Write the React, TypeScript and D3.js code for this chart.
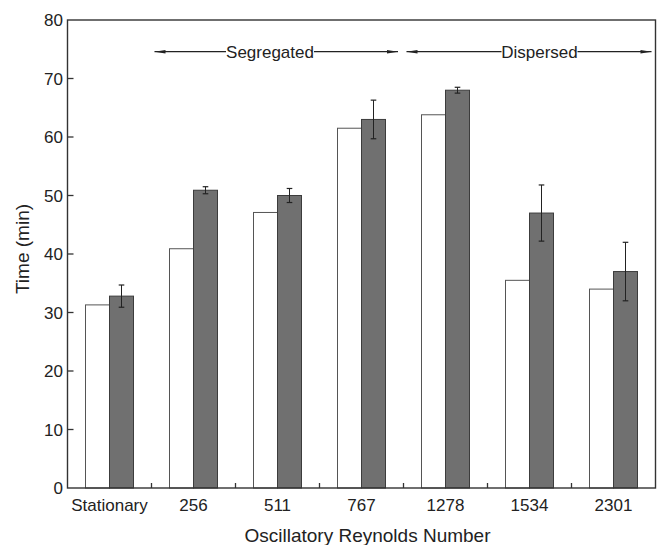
import React from "react";
import * as d3 from "d3";

const categories = ["Stationary", "256", "511", "767", "1278", "1534", "2301"];
const seriesKeys = ["open", "filled"];
const openValues = [31.3, 40.9, 47.1, 61.5, 63.8, 35.5, 34.0];
const filledValues = [32.8, 50.9, 50.0, 63.0, 68.0, 47.0, 37.0];
const filledErrors = [1.9, 0.6, 1.2, 3.3, 0.5, 4.8, 5.0];
const yTicks = [0, 10, 20, 30, 40, 50, 60, 70, 80];
const regimes = [
  { label: "Segregated", from: 1, to: 3 },
  { label: "Dispersed", from: 4, to: 6 },
];

const W = 664;
const H = 545;
const M = { left: 67.5, right: 655.5, top: 20, bottom: 488 };
const FONT = "'Liberation Sans', Arial, Helvetica, sans-serif";

export default function App() {
  const x = d3.scaleBand<string>().domain(categories).range([M.left, M.right]).paddingInner(0).paddingOuter(0);
  const xs = d3
    .scaleBand<string>()
    .domain(seriesKeys)
    .range([0, x.bandwidth()])
    .paddingInner(0)
    .paddingOuter(0.75);
  const y = d3.scaleLinear().domain([0, 80]).range([M.bottom, M.top]);

  const arrowY = 51.7;
  const arrowHead = (tipX: number, dir: number) => {
    const p = d3.path();
    p.moveTo(tipX, arrowY);
    p.lineTo(tipX + dir * 11, arrowY - 1.8);
    p.lineTo(tipX + dir * 11, arrowY + 1.8);
    p.closePath();
    return p.toString();
  };

  return (
    <svg
      width={W}
      height={H}
      style={{ position: "absolute", left: 0, top: 0, background: "#fff" }}
      fontFamily={FONT}
    >
      <rect x={0} y={0} width={W} height={H} fill="#fff" />
      {/* bars */}
      {categories.map((c, i) => {
        const bx = x(c)!;
        const ox = bx + xs("open")!;
        const fx = bx + xs("filled")!;
        const bw = xs.bandwidth();
        const fTop = y(filledValues[i]);
        const eTop = y(filledValues[i] + filledErrors[i]);
        const eBot = y(filledValues[i] - filledErrors[i]);
        const cx = fx + bw / 2;
        return (
          <g key={c}>
            <rect
              x={ox}
              y={y(openValues[i])}
              width={bw}
              height={M.bottom - y(openValues[i])}
              fill="#fff"
              stroke="#555"
              strokeWidth={1}
            />
            <rect
              x={fx}
              y={fTop}
              width={bw}
              height={M.bottom - fTop}
              fill="#707070"
              stroke="#3c3c3c"
              strokeWidth={1}
            />
            <line x1={cx} x2={cx} y1={eTop} y2={eBot} stroke="#222" strokeWidth={1} />
            <line x1={cx - 2.8} x2={cx + 2.8} y1={eTop} y2={eTop} stroke="#222" strokeWidth={1.2} />
            <line x1={cx - 2.8} x2={cx + 2.8} y1={eBot} y2={eBot} stroke="#222" strokeWidth={1.2} />
          </g>
        );
      })}

      {/* frame */}
      <rect
        x={M.left}
        y={M.top}
        width={M.right - M.left}
        height={M.bottom - M.top}
        fill="none"
        stroke="#333"
        strokeWidth={1.4}
      />

      {/* y ticks */}
      {yTicks.map((t) => (
        <g key={t}>
          {t > 0 && t < 80 && (
            <line x1={M.left} x2={M.left + 6} y1={y(t)} y2={y(t)} stroke="#333" strokeWidth={1.3} />
          )}
          <text x={63} y={y(t)} dy="0.36em" textAnchor="end" fontSize={17} fill="#222">
            {t}
          </text>
        </g>
      ))}

      {/* x ticks between categories */}
      {categories.slice(1).map((c) => (
        <line
          key={c}
          x1={x(c)!}
          x2={x(c)!}
          y1={M.bottom}
          y2={M.bottom - 5}
          stroke="#333"
          strokeWidth={1.3}
        />
      ))}
      {categories.map((c) => (
        <text
          key={c}
          x={x(c)! + x.bandwidth() / 2}
          y={511}
          textAnchor="middle"
          fontSize={17}
          fill="#222"
        >
          {c}
        </text>
      ))}

      {/* axis titles */}
      <text x={(M.left + M.right) / 2 + 6} y={542} textAnchor="middle" fontSize={19} fill="#222">
        Oscillatory Reynolds Number
      </text>
      <text
        transform={`translate(29, 249) rotate(-90)`}
        textAnchor="middle"
        fontSize={19}
        fill="#222"
      >
        Time (min)
      </text>

      {/* regime arrows */}
      {regimes.map((r) => {
        const seg = r.label === "Segregated";
        const x0 = x(categories[r.from])! + 3;
        const x1 = x(categories[r.to])! + x.bandwidth() - (seg ? 5.5 : 4);
        const tx = seg ? 270 : 539.5;
        const half = seg ? 44 : 38;
        return (
          <g key={r.label}>
            <line x1={x0} x2={tx - half} y1={arrowY} y2={arrowY} stroke="#222" strokeWidth={1.2} />
            <line x1={tx + half} x2={x1} y1={arrowY} y2={arrowY} stroke="#222" strokeWidth={1.2} />
            <path d={arrowHead(x0, 1)} fill="#222" />
            <path d={arrowHead(x1, -1)} fill="#222" />
            <text x={tx} y={57.5} textAnchor="middle" fontSize={17} fill="#222">
              {r.label}
            </text>
          </g>
        );
      })}
    </svg>
  );
}
